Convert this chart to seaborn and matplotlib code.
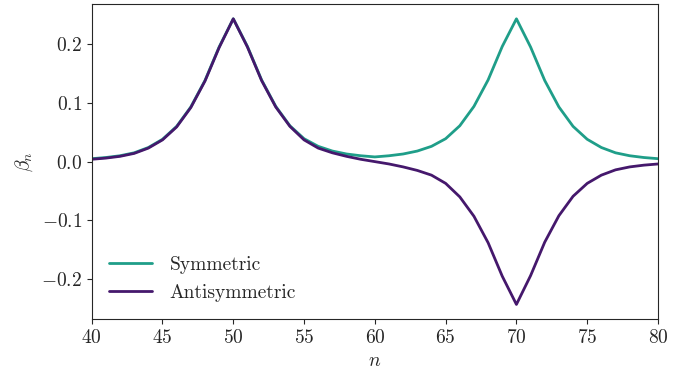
import numpy as np
import pandas as pd
import matplotlib
matplotlib.use("Agg")
import matplotlib.pyplot as plt
import seaborn as sns

# ================= Data ================= #
n = list(range(40, 81))
symmetric = [0.005, 0.007, 0.010, 0.015, 0.024, 0.038, 0.060, 0.093, 0.138, 0.195, 0.243,
             0.196, 0.139, 0.094, 0.061, 0.039, 0.026, 0.018, 0.013, 0.010, 0.008,
             0.010, 0.013, 0.018, 0.026, 0.039, 0.061, 0.094, 0.139, 0.196, 0.243,
             0.195, 0.138, 0.093, 0.060, 0.038, 0.024, 0.015, 0.010, 0.007, 0.005]
antisymmetric = [0.004, 0.006, 0.009, 0.014, 0.023, 0.037, 0.059, 0.092, 0.137, 0.194, 0.243,
                 0.195, 0.138, 0.093, 0.060, 0.037, 0.023, 0.015, 0.009, 0.004, 0.000,
                 -0.004, -0.009, -0.015, -0.023, -0.037, -0.060, -0.093, -0.138, -0.195, -0.243,
                 -0.194, -0.137, -0.092, -0.059, -0.037, -0.023, -0.014, -0.009, -0.006, -0.004]
labels = ["Symmetric", "Antisymmetric"]
colors = {"Symmetric": "#1f9e89", "Antisymmetric": "#45186c"}

df = pd.DataFrame({
    "n": n * 2,
    "beta": symmetric + antisymmetric,
    "kind": [labels[0]] * len(n) + [labels[1]] * len(n),
})

# ================= Style ================= #
sns.set_style("ticks")
plt.rcParams["font.family"] = "serif"
plt.rcParams["font.serif"] = ["cmr10"]
plt.rcParams["mathtext.fontset"] = "cm"
plt.rcParams["axes.formatter.use_mathtext"] = True
plt.rcParams["font.size"] = 14

# ================= Plot ================= #
fig, ax = plt.subplots(figsize=(7, 3.75), dpi=100)
sns.lineplot(data=df, x="n", y="beta", hue="kind", palette=colors, linewidth=2, ax=ax)
ax.set_xlim(40, 80)
ax.set_ylim(-0.268, 0.268)
ax.set_xticks([40, 45, 50, 55, 60, 65, 70, 75, 80])
ax.set_yticks([-0.2, -0.1, 0.0, 0.1, 0.2])
ax.set_xlabel("$n$", fontsize=14)
ax.set_ylabel(r"$\beta_n$", fontsize=14)
ax.tick_params(labelsize=14)
ax.legend(title=None, frameon=False, loc="lower left", fontsize=14,
          bbox_to_anchor=(0.0, 0.0), handlelength=2.2, handletextpad=0.9)

fig.subplots_adjust(left=0.131, right=0.94, top=0.989, bottom=0.149)
fig.savefig("out.png", dpi=100)
